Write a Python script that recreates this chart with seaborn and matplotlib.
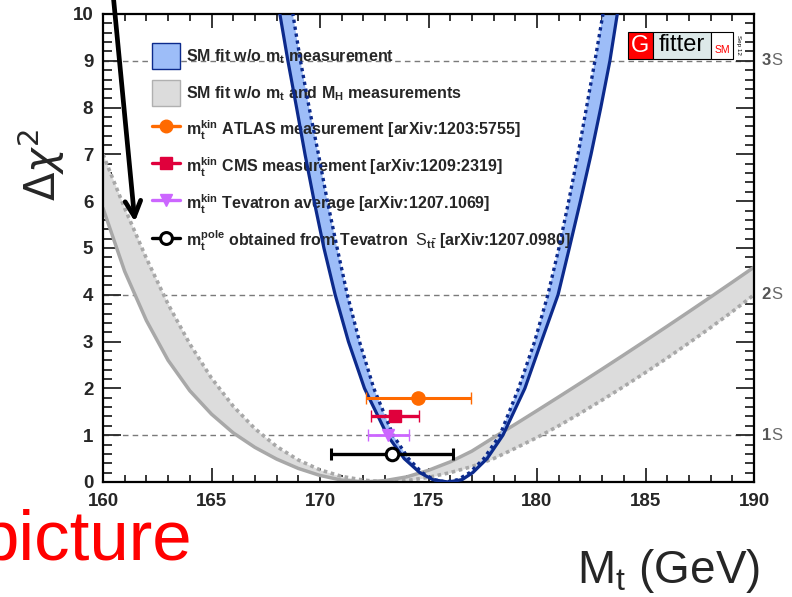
import numpy as np
import matplotlib
matplotlib.use("Agg")
import matplotlib.pyplot as plt
import seaborn as sns
from matplotlib.patches import Patch, Rectangle
from matplotlib.lines import Line2D
from matplotlib.ticker import MultipleLocator

# ---------------- data ----------------
# SM fit without the m_t measurement: outer (solid) and inner (dotted) scan
blue_solid_mt = [167.95, 168.15, 168.52, 168.92, 169.31, 169.73, 170.18, 170.70,
                 171.31, 172.05, 173.10, 173.88, 174.60, 175.20, 175.90, 176.55,
                 177.04, 177.70, 178.43, 179.44, 180.20, 180.97, 181.49, 182.00,
                 182.49, 182.94, 183.36, 183.70, 183.88]
blue_solid_chi2 = [10.5, 10.0, 9.0, 8.0, 7.0, 6.0, 5.0, 4.0,
                   3.0, 2.0, 1.0, 0.5, 0.2, 0.05, 0.0, 0.05,
                   0.2, 0.5, 1.0, 2.0, 3.0, 4.0, 5.0, 6.0,
                   7.0, 8.0, 9.0, 10.0, 10.5]
blue_dotted_mt = [168.55, 168.75, 169.10, 169.50, 169.93, 170.34, 170.79, 171.26,
                  171.82, 172.48, 173.37, 174.08, 174.70, 175.25, 175.80, 176.35,
                  176.90, 177.55, 178.29, 179.15, 179.89, 180.50, 181.01, 181.46,
                  181.89, 182.28, 182.67, 183.04, 183.20]
blue_dotted_chi2 = [10.5, 10.0, 9.0, 8.0, 7.0, 6.0, 5.0, 4.0,
                    3.0, 2.0, 1.0, 0.5, 0.2, 0.05, 0.0, 0.05,
                    0.2, 0.5, 1.0, 2.0, 3.0, 4.0, 5.0, 6.0,
                    7.0, 8.0, 9.0, 10.0, 10.5]

# SM fit without m_t and M_H measurements
gray_mt = [160, 161, 162, 163, 164, 165, 166, 167, 168, 169, 170, 171, 172, 173, 174,
           175, 176, 177, 178, 179, 180, 181, 182, 183, 184, 185, 186, 187, 188, 189, 190]
gray_solid_chi2 = [5.85, 4.50, 3.45, 2.60, 1.95, 1.45, 1.05, 0.74, 0.49, 0.29, 0.14,
                   0.04, 0.00, 0.03, 0.11, 0.25, 0.43, 0.66, 0.95, 1.235, 1.525, 1.818,
                   2.114, 2.413, 2.715, 3.02, 3.328, 3.639, 3.953, 4.27, 4.59]
gray_dotted_chi2 = [7.00, 5.85, 4.78, 3.80, 2.95, 2.22, 1.62, 1.14, 0.76, 0.47, 0.26,
                    0.12, 0.04, 0.00, 0.03, 0.10, 0.20, 0.33, 0.50, 0.72, 0.95, 1.20,
                    1.47, 1.75, 2.04, 2.34, 2.65, 2.97, 3.30, 3.64, 4.00]

# direct top-mass determinations
meas_mt = [174.53, 173.46, 173.15, 173.30]
meas_err = [2.42, 1.09, 0.96, 2.81]
meas_row = [1.8, 1.4, 1.0, 0.6]
meas_labels = [
    r"m$_t^{kin}$ ATLAS measurement [arXiv:1203:5755]",
    r"m$_t^{kin}$ CMS measurement [arXiv:1209:2319]",
    r"m$_t^{kin}$ Tevatron average [arXiv:1207.1069]",
    r"m$_t^{pole}$ obtained from Tevatron  $\mathsf{S}_{t\bar{t}}$ [arXiv:1207.0980]",
]
band_labels = [r"SM fit w/o m$_t$ measurement",
               r"SM fit w/o m$_t$ and M$_H$ measurements"]

sigma_chi2 = [1, 4, 9]
sigma_names = ["1", "2", "3"]

x_ticks = [160, 165, 170, 175, 180, 185, 190]
y_ticks = [0, 1, 2, 3, 4, 5, 6, 7, 8, 9, 10]

# ---------------- style ----------------
sns.set_style("ticks")
plt.rcParams["font.family"] = ["Liberation Sans", "DejaVu Sans"]
plt.rcParams["mathtext.fontset"] = "custom"
plt.rcParams["mathtext.rm"] = "Liberation Sans:bold"
plt.rcParams["mathtext.it"] = "Liberation Sans:bold"
plt.rcParams["mathtext.bf"] = "Liberation Sans:bold"
plt.rcParams["mathtext.sf"] = "Liberation Sans"

W, H = 792, 597
fig = plt.figure(figsize=(W / 100, H / 100), dpi=100)
ax = fig.add_axes([103 / W, 115 / H, 651 / W, 468 / H])

dark_blue = "#0c2a8c"
light_blue = "#9dbdf8"
gray_line = "#a8a8a8"
gray_fill = "#dcdcdc"

# reference sigma lines
for lvl in sigma_chi2:
    ax.axhline(lvl, color="#7a7a7a", lw=1.0, ls=(0, (4, 3)), zorder=0.5)

# gray band
ax.fill_between(gray_mt, gray_solid_chi2, gray_dotted_chi2, color=gray_fill, lw=0, zorder=1)
sns.lineplot(x=gray_mt, y=gray_solid_chi2, ax=ax, color=gray_line, lw=2.5,
             sort=False, estimator=None, zorder=1.2)
sns.lineplot(x=gray_mt, y=gray_dotted_chi2, ax=ax, color=gray_line, lw=2.6,
             sort=False, estimator=None, zorder=1.2)
ax.lines[-1].set_linestyle((0, (1.0, 1.0)))

# blue band
ax.fill(np.r_[blue_solid_mt, blue_dotted_mt[::-1]],
        np.r_[blue_solid_chi2, blue_dotted_chi2[::-1]],
        color=light_blue, lw=0, zorder=2)
sns.lineplot(x=blue_solid_mt, y=blue_solid_chi2, ax=ax, color=dark_blue, lw=2.3,
             sort=False, estimator=None, zorder=3)
sns.lineplot(x=blue_dotted_mt, y=blue_dotted_chi2, ax=ax, color=dark_blue, lw=2.4,
             sort=False, estimator=None, zorder=3)
ax.lines[-1].set_linestyle((0, (1.0, 1.1)))

# measurements
styles = [
    dict(color="#ff6a00", marker="o", ms=9.5, mfc="#ff6a00", mec="#ff6a00"),
    dict(color="#e0003c", marker="s", ms=9.0, mfc="#e0003c", mec="#e0003c"),
    dict(color="#cc66ff", marker="v", ms=9.0, mfc="#cc66ff", mec="#cc66ff"),
    dict(color="black", marker="o", ms=9.0, mfc="white", mec="black", mew=2.2),
]
elw = [2.2, 2.4, 2.0, 2.4]
for xv, ev, yv, st, lw in zip(meas_mt, meas_err, meas_row, styles, elw):
    ax.errorbar([xv], [yv], xerr=[ev], fmt=st["marker"], color=st["color"],
                ms=st["ms"], mfc=st["mfc"], mec=st["mec"], mew=st.get("mew", 1),
                elinewidth=lw, capsize=4, capthick=lw, zorder=5)

# arrow from above the frame
ax.annotate("", xy=(161.47, 5.56), xytext=(160.46, 10.45), xycoords="data",
            arrowprops=dict(arrowstyle="->", color="black", lw=3.4,
                            mutation_scale=28, shrinkA=0, shrinkB=0),
            annotation_clip=False, zorder=6)

# axes
ax.set_xlim(160, 190)
ax.set_ylim(0, 10)
ax.set_xticks(x_ticks)
ax.set_yticks(y_ticks)
ax.xaxis.set_minor_locator(MultipleLocator(1))
ax.yaxis.set_minor_locator(MultipleLocator(0.2))
ax.set_xlabel("")
ax.set_ylabel("")
for s in ax.spines.values():
    s.set_visible(True)
    s.set_linewidth(1.6)
    s.set_color("black")
ax.tick_params(axis="x", which="major", direction="in", length=10, width=1.3,
               top=True, bottom=True, pad=8, labelsize=13.5)
ax.tick_params(axis="x", which="minor", direction="in", length=5, width=1.3,
               top=True, bottom=True)
ax.tick_params(axis="y", which="major", direction="in", length=13, width=1.3,
               left=True, right=True, pad=7, labelsize=13.5)
ax.tick_params(axis="y", which="minor", direction="in", length=6.5, width=1.3,
               left=True, right=True)
for lab in ax.get_xticklabels() + ax.get_yticklabels():
    lab.set_fontweight("bold")

# sigma labels on the right
for lvl, nm in zip(sigma_chi2, sigma_names):
    ax.annotate(nm, xy=(1, lvl), xycoords=("axes fraction", "data"),
                xytext=(5.6, 0), textcoords="offset points", va="center", ha="left",
                fontsize=12, fontweight="bold", color="#555555", annotation_clip=False)
    ax.annotate("S", xy=(1, lvl), xycoords=("axes fraction", "data"),
                xytext=(12.6, 0), textcoords="offset points", va="center", ha="left",
                fontsize=12, color="#6a6a6a", annotation_clip=False)

# legend
handles = [
    Patch(facecolor=light_blue, edgecolor=dark_blue, lw=1.0),
    Patch(facecolor=gray_fill, edgecolor="#b0b0b0", lw=1.0),
]
for st in styles:
    handles.append(Line2D([], [], color=st["color"], marker=st["marker"], ms=st["ms"] * 0.95,
                          mfc=st["mfc"], mec=st["mec"], mew=st.get("mew", 1), lw=2.4))
leg = ax.legend(handles, band_labels + meas_labels, loc="upper left",
                bbox_to_anchor=(152 / W, 1 - 43 / H), bbox_transform=fig.transFigure,
                frameon=False, fontsize=11.5, handlelength=1.75, handleheight=2.12,
                labelspacing=0.7, handletextpad=0.37, borderpad=0, borderaxespad=0)
for t in leg.get_texts():
    t.set_fontweight("bold")
leg.set_zorder(2.5)

# axis titles
fig.text(41 / W, 1 - 165 / H, r"$\Delta\chi^2$", rotation=90, ha="center", va="center",
         fontsize=30, math_fontfamily="dejavusans")
fig.text(760 / W, 1 - 583 / H, r"M$_\mathsf{t}$ (GeV)", ha="right", va="baseline",
         fontsize=33)
fig.text(192 / W, 1 - 560 / H, "picture", ha="right", va="baseline", fontsize=51,
         color="#ff0000")

# Gfitter logo
def fig_rect(x0, y0, x1, y1, fc):
    fig.add_artist(Rectangle((x0 / W, 1 - y1 / H), (x1 - x0) / W, (y1 - y0) / H,
                             transform=fig.transFigure, facecolor=fc,
                             edgecolor="black", lw=0.8, zorder=7))

fig_rect(628, 32, 653, 59, "#ff0000")
fig_rect(653, 32, 711, 59, "#dde9e9")
fig_rect(711, 32, 733, 59, "white")
fig.text(640.5 / W, 1 - 46 / H, "G", ha="center", va="center", fontsize=17,
         color="white", zorder=8)
fig.text(682 / W, 1 - 45 / H, "fitter", ha="center", va="center", fontsize=17,
         color="black", zorder=8)
fig.text(722 / W, 1 - 50 / H, "SM", ha="center", va="center", fontsize=7.5,
         color="#ff0000", zorder=8)
fig.text(738 / W, 1 - 45 / H, "Sep 12", ha="center", va="center", fontsize=4.5,
         rotation=270, color="black", zorder=8)

fig.savefig("out.png", dpi=100)
